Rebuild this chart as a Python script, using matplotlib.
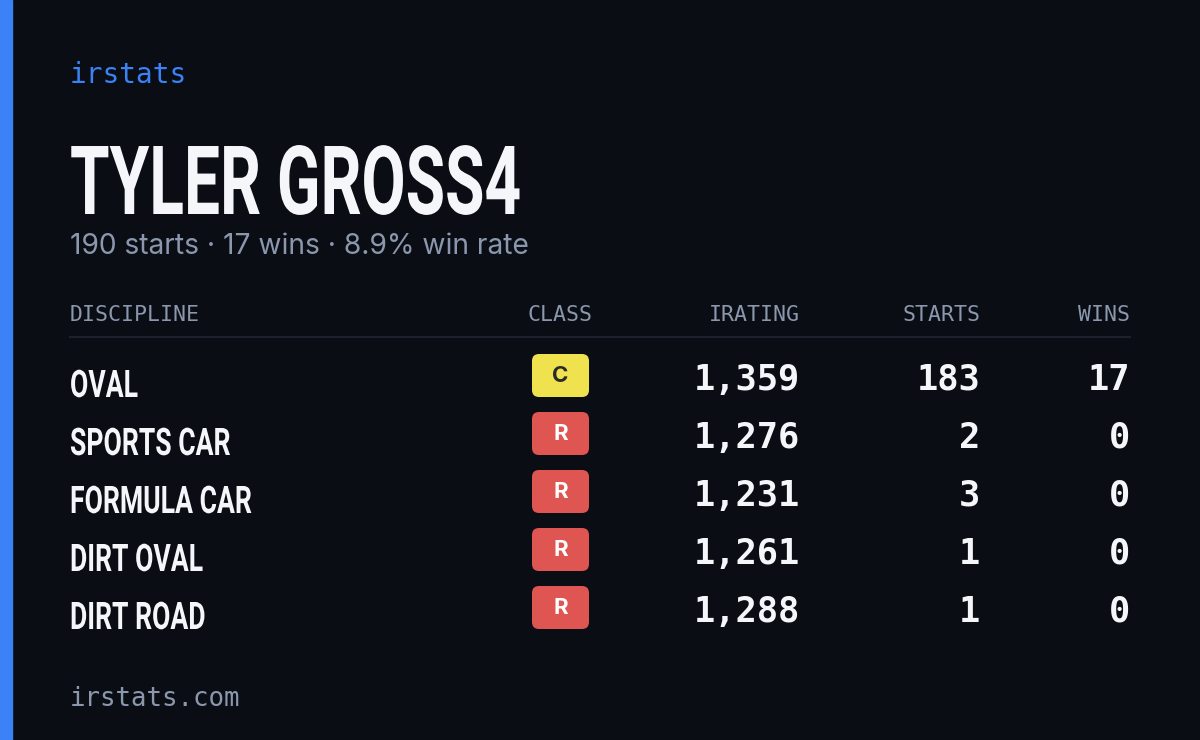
import matplotlib
matplotlib.use("Agg")
import matplotlib.pyplot as plt
from matplotlib.patches import FancyBboxPatch, Rectangle, PathPatch
from matplotlib.textpath import TextPath
from matplotlib.font_manager import FontProperties
from matplotlib.transforms import Affine2D

disciplines = ["OVAL", "SPORTS CAR", "FORMULA CAR", "DIRT OVAL", "DIRT ROAD"]
classes = ["C", "R", "R", "R", "R"]
iratings = [1359, 1276, 1231, 1261, 1288]
starts = [183, 2, 3, 1, 1]
wins = [17, 0, 0, 0, 0]
name = "TYLER GROSS4"

W, H = 1200, 740
BG = "#0a0d14"; WHITE = "#f5f6fa"; GRAY = "#8a97ad"; BLUE = "#3b82f6"
fig = plt.figure(figsize=(12, 7.4), dpi=100)
fig.patch.set_facecolor(BG)
ax = fig.add_axes([0, 0, 1, 1])
ax.set_xlim(0, W); ax.set_ylim(H, 0); ax.axis("off")
mono = "DejaVu Sans Mono"
cond_fp = FontProperties(family="Roboto", weight="bold")

def cond_text(s, x, baseline, cap_px, sx):
    size = cap_px / 0.711
    tp = TextPath((0, 0), s, size=size, prop=cond_fp)
    tr = Affine2D().scale(sx, -1).translate(x, baseline)
    ax.add_patch(PathPatch(tr.transform_path(tp), fc=WHITE, ec="none"))

ax.add_patch(Rectangle((0, 0), 12, H, color=BLUE))
ax.text(70, 75, "irstats", color=BLUE, fontsize=20, family=mono, va="center")
cond_text(name, 70, 214, 68, 0.67)
tot_s = sum(starts); tot_w = sum(wins)
ax.text(70, 246, f"{tot_s} starts · {tot_w} wins · {100*tot_w/tot_s:.1f}% win rate",
        color=GRAY, fontsize=20.3, family="Inter", va="center")

hy = 315
for lab, x, ha in [("DISCIPLINE", 70, "left"), ("CLASS", 560, "center"),
                   ("IRATING", 800, "right"), ("STARTS", 980, "right"), ("WINS", 1130, "right")]:
    ax.text(x, hy, lab, color=GRAY, fontsize=15.5, family=mono, va="center", ha=ha)
ax.plot([70, 1130], [337, 337], color="#1c212c", lw=1.5)

badge = {"C": ("#f0e14f", "#2a2a2a"), "R": ("#df5551", "#ffffff")}
for i, d in enumerate(disciplines):
    y = 377 + 58 * i
    cond_text(d, 70, y + 20, 27, 0.7)
    fc, tc = badge[classes[i]]
    ax.add_patch(FancyBboxPatch((532, y - 23), 57, 43, boxstyle="round,pad=0,rounding_size=7",
                                fc=fc, ec="none"))
    ax.text(560.5, y - 1, classes[i], color=tc, fontsize=16, family="Inter", weight="bold",
            ha="center", va="center")
    for val, x in [(f"{iratings[i]:,}", 800), (f"{starts[i]}", 980), (f"{wins[i]}", 1130)]:
        ax.text(x, y + 3, val, color=WHITE, fontsize=25.5, family=mono, weight="bold",
                ha="right", va="center")

ax.text(70, 699, "irstats.com", color=GRAY, fontsize=18.5, family=mono, va="center")
fig.savefig("out.png", dpi=100, facecolor=BG)
